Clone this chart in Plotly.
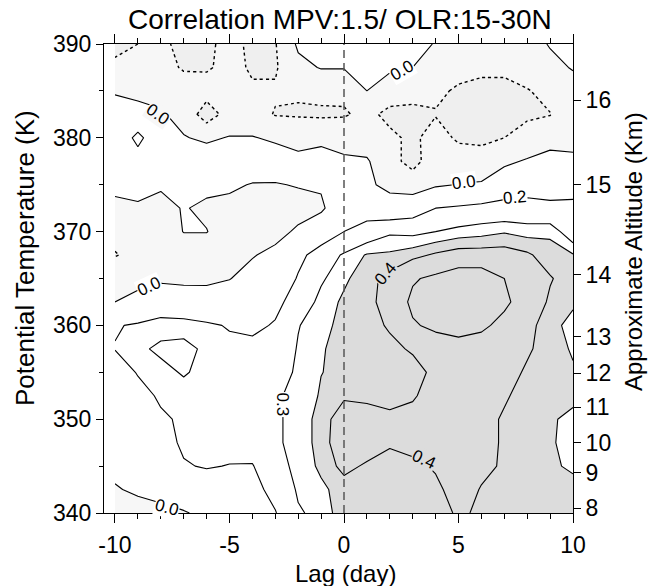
import plotly.graph_objects as go

# Lag (days) and potential temperature (K) grid of the lag-correlation field
LAGS = list(range(-10, 11))
THETA = [390, 387.5, 385, 382.5, 380, 377.5, 375, 372.5, 370, 367.5, 365,
         362.5, 360, 357.5, 355, 352.5, 350, 347.5, 345, 342.5, 340]

# correlation MPV(1.5 PVU) vs OLR(15-30N); one row per theta level, one column per lag
CORR = [
    [-0.24, -0.20, -0.17, -0.24, -0.22, -0.17, -0.22, -0.21, 0.03, 0.08, 0.10, 0.10, 0.10, 0.06, -0.01, -0.10, -0.12, -0.10, -0.06, 0.01, 0.06],
    [-0.17, -0.14, -0.13, -0.22, -0.22, -0.15, -0.22, -0.22, -0.05, 0.01, 0.01, 0.05, 0.03, 0.00, -0.08, -0.15, -0.17, -0.17, -0.12, -0.04, 0.01],
    [-0.01, -0.03, -0.06, -0.10, -0.12, -0.10, -0.18, -0.18, -0.18, -0.15, -0.16, 0.00, -0.10, -0.12, -0.17, -0.22, -0.24, -0.24, -0.21, -0.15, -0.06],
    [0.05, 0.04, 0.02, -0.06, -0.30, -0.12, -0.13, -0.21, -0.22, -0.23, -0.22, -0.15, -0.25, -0.26, -0.21, -0.23, -0.24, -0.23, -0.22, -0.205, -0.12],
    [0.05, 0.25, 0.05, 0.01, -0.03, 0.01, 0.01, -0.03, -0.04, -0.03, -0.05, -0.10, -0.16, -0.24, -0.12, -0.23, -0.22, -0.20, -0.15, -0.10, -0.08],
    [0.10, 0.12, 0.10, 0.08, 0.10, 0.10, 0.12, 0.10, 0.03, 0.05, 0.02, 0.02, -0.14, -0.26, -0.10, -0.10, -0.16, -0.04, 0.02, 0.09, 0.05],
    [0.04, 0.05, 0.02, 0.05, 0.04, 0.03, -0.01, -0.01, 0.01, 0.02, 0.07, 0.04, -0.06, -0.10, -0.02, 0.005, 0.025, 0.13, 0.15, 0.16, 0.15],
    [-0.04, -0.02, -0.05, 0.01, -0.03, -0.05, -0.08, -0.08, -0.06, -0.03, 0.14, 0.14, 0.11, 0.14, 0.20, 0.22, 0.24, 0.24, 0.24, 0.22, 0.23],
    [-0.15, -0.10, -0.10, 0.005, 0.005, -0.08, -0.08, -0.05, 0.025, 0.13, 0.20, 0.25, 0.29, 0.283, 0.30, 0.32, 0.33, 0.345, 0.33, 0.34, 0.25],
    [-0.21, -0.15, -0.13, -0.10, -0.10, -0.09, -0.01, 0.04, 0.17, 0.25, 0.31, 0.355, 0.36, 0.38, 0.41, 0.43, 0.43, 0.43, 0.41, 0.37, 0.355],
    [-0.08, -0.06, -0.03, -0.04, -0.03, -0.005, 0.055, 0.105, 0.21, 0.29, 0.34, 0.38, 0.42, 0.49, 0.52, 0.56, 0.56, 0.50, 0.45, 0.405, 0.37],
    [0.00, 0.06, 0.12, 0.10, 0.07, 0.095, 0.115, 0.17, 0.25, 0.32, 0.36, 0.38, 0.43, 0.52, 0.57, 0.59, 0.58, 0.52, 0.45, 0.39, 0.36],
    [0.19, 0.215, 0.24, 0.24, 0.22, 0.19, 0.175, 0.21, 0.297, 0.33, 0.37, 0.37, 0.41, 0.49, 0.52, 0.53, 0.52, 0.47, 0.42, 0.37, 0.33],
    [0.205, 0.22, 0.18, 0.17, 0.22, 0.23, 0.23, 0.25, 0.305, 0.345, 0.37, 0.37, 0.38, 0.41, 0.45, 0.47, 0.45, 0.43, 0.41, 0.37, 0.345],
    [0.12, 0.21, 0.23, 0.19, 0.23, 0.25, 0.26, 0.27, 0.31, 0.349, 0.36, 0.37, 0.36, 0.37, 0.42, 0.45, 0.45, 0.43, 0.39, 0.37, 0.355],
    [0.10, 0.15, 0.22, 0.24, 0.25, 0.26, 0.25, 0.29, 0.32, 0.355, 0.39, 0.38, 0.37, 0.39, 0.44, 0.45, 0.43, 0.41, 0.37, 0.36, 0.37],
    [0.08, 0.12, 0.18, 0.22, 0.25, 0.26, 0.25, 0.29, 0.32, 0.37, 0.44, 0.44, 0.42, 0.43, 0.42, 0.45, 0.43, 0.39, 0.37, 0.36, 0.33],
    [0.06, 0.09, 0.15, 0.22, 0.25, 0.25, 0.24, 0.29, 0.32, 0.37, 0.45, 0.44, 0.41, 0.43, 0.42, 0.44, 0.43, 0.39, 0.37, 0.36, 0.32],
    [0.03, 0.06, 0.12, 0.19, 0.21, 0.195, 0.195, 0.27, 0.32, 0.36, 0.42, 0.39, 0.37, 0.38, 0.41, 0.45, 0.42, 0.39, 0.37, 0.36, 0.34],
    [-0.01, 0.02, 0.04, 0.08, 0.12, 0.14, 0.17, 0.23, 0.31, 0.34, 0.37, 0.37, 0.37, 0.37, 0.38, 0.44, 0.395, 0.38, 0.37, 0.37, 0.37],
    [-0.08, -0.05, -0.03, -0.01, 0.03, 0.08, 0.13, 0.195, 0.292, 0.32, 0.38, 0.37, 0.37, 0.37, 0.37, 0.41, 0.39, 0.38, 0.37, 0.37, 0.37],
]

# axis ticks
LAG_TICKS = [-10, -5, 0, 5, 10]
LAG_TICK_TEXT = ["-10", "-5", "0", "5", "10"]
THETA_TICKS = [340, 350, 360, 370, 380, 390]

# right-hand altitude axis: km labels and the theta level each sits at
ALT_KM = ["8", "9", "10", "11", "12", "13", "14", "15", "16"]
ALT_THETA = [340.5, 344.3, 347.5, 351.3, 354.9, 358.8, 365.4, 375.0, 384.0]

# contour levels; the dark shading starts at SHADE_LEVEL
SOLID_LEVELS = [0.0, 0.2, 0.3, 0.35, 0.4, 0.5]
DOTTED_LEVELS = [-0.2]
SHADE_LEVEL = 0.35

# in-line contour labels: text, lag, theta, angle, background
CONTOUR_LABELS = [
    ("0.0", -8.12, 382.5, 35, "#f7f7f7"),
    ("0.0", 2.53, 387.2, -30, "#ffffff"),
    ("0.0", 5.24, 375.2, -8, "#ffffff"),
    ("0.2", 7.47, 373.6, -5, "#ffffff"),
    ("0.0", -8.52, 364.2, -25, "#ffffff"),
    ("0.0", -7.73, 340.6, 15, "#ffffff"),
    ("0.3", -2.68, 351.6, 90, "#ffffff"),
    ("0.4", 1.83, 365.5, -50, "#dcdcdc"),
    ("0.4", 3.49, 345.7, 25, "#dcdcdc"),
]

NEG_FILL = "#f7f7f7"
NEG2_FILL = "#efefef"
POS_FILL = "#dcdcdc"
FONT = "Liberation Sans, Arial, Helvetica, sans-serif"

fig = go.Figure()

# shaded regions (constraint contours shade the side that fails the test)
for op, val, col in [(">", 0.0, NEG_FILL), (">", -0.2, NEG2_FILL), ("<", SHADE_LEVEL, POS_FILL)]:
    fig.add_trace(go.Contour(
        x=LAGS, y=THETA, z=CORR,
        contours=dict(type="constraint", operation=op, value=val, showlines=False),
        fillcolor=col, line=dict(width=0, smoothing=0),
        showscale=False, hoverinfo="skip",
    ))

# contour lines
for lvl in SOLID_LEVELS + DOTTED_LEVELS:
    fig.add_trace(go.Contour(
        x=LAGS, y=THETA, z=CORR, autocontour=False,
        contours=dict(coloring="none", start=lvl, end=lvl, size=1, showlabels=False),
        line=dict(color="black", width=1.1 if lvl >= 0 else 1.4, smoothing=0,
                  dash="dot" if lvl < 0 else "solid"),
        showscale=False, hoverinfo="skip",
    ))

# dummy trace so the altitude axis is drawn
fig.add_trace(go.Scatter(x=[0], y=[365], yaxis="y2", mode="markers",
                         marker=dict(opacity=0), showlegend=False, hoverinfo="skip"))

# zero-lag reference line
fig.add_shape(type="line", x0=0, x1=0, y0=340, y1=390, xref="x", yref="y",
              line=dict(color="#555555", width=1.5, dash="8px,5px"))

for text, lag, th, ang, bg in CONTOUR_LABELS:
    fig.add_annotation(x=lag, y=th, xref="x", yref="y", text=text, showarrow=False,
                       textangle=ang, bgcolor=bg, borderpad=0,
                       xanchor="center", yanchor="middle",
                       font=dict(family=FONT, size=17, color="black"))

W, H = 655, 586
L, R, T, B = 104, 82, 44, 73
pw, ph = W - L - R, H - T - B


def px(x):
    return (x - L) / pw


def py(y):
    return (H - B - y) / ph


def add_text(x, y, text, size, angle=0):
    fig.add_annotation(x=px(x), y=py(y), xref="paper", yref="paper", text=text,
                       showarrow=False, textangle=angle,
                       xanchor="center", yanchor="middle",
                       font=dict(family=FONT, size=size, color="black"))


add_text(340, 19, "Correlation MPV:1.5/ OLR:15-30N", 28)
add_text(345, 573, "Lag (day)", 24)
add_text(25, 258, "Potential Temperature (K)", 26, -90)
add_text(634, 252, "Approximate Altitude (Km)", 24, -90)

axis_common = dict(showgrid=False, zeroline=False, showline=True, linecolor="black",
                   linewidth=1, ticks="outside", tickcolor="black", tickwidth=1,
                   tickfont=dict(family=FONT, size=23, color="black"))

fig.update_layout(
    width=W, height=H,
    margin=dict(l=L, r=R, t=T, b=B, pad=0),
    paper_bgcolor="white", plot_bgcolor="white",
    showlegend=False,
    xaxis=dict(range=[-10.48, 10], tickmode="array", tickvals=LAG_TICKS,
               ticktext=LAG_TICK_TEXT, ticklen=9, ticklabelstandoff=2,
               mirror="ticks", minor=dict(dtick=1, ticklen=5, ticks="outside",
                                          tickcolor="black"),
               **axis_common),
    yaxis=dict(range=[340, 390], tickmode="array", tickvals=THETA_TICKS, ticklen=7,
               minor=dict(dtick=5, ticklen=4, ticks="outside", tickcolor="black"),
               **axis_common),
    yaxis2=dict(overlaying="y", side="right", range=[340, 390], tickmode="array",
                tickvals=ALT_THETA, ticktext=ALT_KM, ticklen=7, **axis_common),
)

fig.write_html("out.html")
